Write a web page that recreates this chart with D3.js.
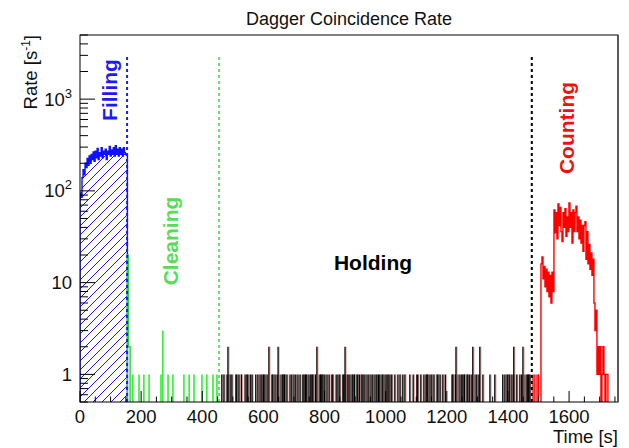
<!DOCTYPE html>
<html><head><meta charset="utf-8">
<script src="https://cdn.jsdelivr.net/npm/d3@7"></script>
<style>body{margin:0;background:#fff}svg{display:block}text{font-family:"Liberation Sans",Arial,Helvetica,sans-serif}</style>
</head><body><svg id="c" width="629" height="448"></svg>
<script>
// ---------- data ----------
const xDomain = [0, 1760];
const yDomain = [0.5, 5000];
const xTickValues = [0, 200, 400, 600, 800, 1000, 1200, 1400, 1600];
const yTickValues = [1, 10, 100, 1000];
const yTickBase = ["1", "10", "10", "10"];
const yTickExp = ["", "", "2", "3"];

// Filling phase histogram (blue, hatched)
const fillStart = 0, fillBin = 3.3;
const fillRates = [95, 85, 140, 170, 150, 200, 180, 225, 190, 240, 200, 250, 220, 265, 210, 270, 230, 290, 220, 260, 240, 295, 230, 270, 250, 285, 220, 270, 250, 305, 240, 280, 250, 295, 240, 310, 250, 285, 240, 295, 250, 285, 240, 295, 260, 250, 245];

// Cleaning phase (green)
const cleanStart = 155, cleanBin = 3;
const cleanRates = [20, 2, 2];
const cleanEvents = [173, 193, 209, 226, 265, 288, 304, 340, 357, 373, 399, 415, 435, 448];
const cleanEventRates = [1, 1, 1, 1, 1, 1, 1, 1, 1, 1, 1, 1, 1, 1];
const cleanSpikes = [271];
const cleanSpikeRates = [3];

// Holding phase (black)
const holdEvents = [464, 471, 481, 487, 491, 497, 510, 513, 520, 528, 540, 546, 549, 557, 563, 575, 582, 589, 595, 600, 605, 612, 628, 631, 638, 645, 654, 661, 664, 668, 670, 677, 687, 693, 700, 706, 713, 720, 729, 733, 738, 742, 749, 755, 759, 762, 770, 782, 787, 791, 795, 801, 808, 815, 824, 827, 838, 844, 850, 860, 863, 868, 873, 877, 883, 890, 893, 898, 906, 909, 915, 922, 926, 932, 939, 945, 952, 958, 965, 971, 976, 981, 988, 991, 998, 1004, 1008, 1014, 1020, 1030, 1040, 1047, 1056, 1063, 1079, 1090, 1102, 1105, 1115, 1125, 1132, 1135, 1138, 1145, 1151, 1158, 1168, 1171, 1178, 1187, 1195, 1217, 1220, 1228, 1236, 1243, 1249, 1253, 1258, 1266, 1269, 1275, 1282, 1292, 1298, 1305, 1318, 1341, 1357, 1383, 1390, 1397, 1400, 1406, 1413, 1420, 1429, 1439, 1445, 1455, 1462, 1465, 1468, 1472];
const holdSpikes = [484, 618, 648, 775, 867, 1230, 1285, 1308, 1419, 1449];
const holdSpikeRates = [2, 2, 2, 2, 2, 2, 2, 2, 2, 2];

// Counting phase (red)
const countEvents = [1482, 1488, 1495, 1500];
const countStart = 1508, countBin = 3.27;
const countRates = [16, 19, 11, 15, 9, 14, 8, 13, 7, 12, 6, 13, 8,
  62, 35, 58, 30, 72, 42, 66, 36, 28, 58, 40, 64, 32, 52, 36, 74, 40, 58, 27, 62, 36, 58, 68, 36, 52, 30, 48, 27, 42, 22, 42, 46, 18, 36, 16, 26, 14, 21, 12, 18,
  6, 3, 5, 1, 2, 1, 2, 0, 1, 2, 1, 0, 1, 1];

// Phase boundaries and labels
const phaseNames = ["Filling", "Cleaning", "Holding", "Counting"];
const phaseEnds = [154, 455, 1478];

// ---------- layout ----------
const L = 80, R = 618, T = 35, B = 402;
const svg = d3.select("#c");
const x = d3.scaleLinear().domain(xDomain).range([L, R]);
const y = d3.scaleLog().domain(yDomain).range([B, T]);
const yv = v => v <= 0 ? B : y(v);

const defs = svg.append("defs");
defs.append("clipPath").attr("id", "clip").append("rect").attr("x", L).attr("y", T).attr("width", R - L).attr("height", B - T);
const pat = defs.append("pattern").attr("id", "hatch").attr("patternUnits", "userSpaceOnUse").attr("width", 9).attr("height", 9);
pat.append("path").attr("d", "M-2,2 L2,-2 M0,9 L9,0 M7,11 L11,7").attr("stroke", "#1a1aff").attr("stroke-width", 1);

const g = svg.append("g").attr("clip-path", "url(#clip)");

function stepPts(t0, w, vals) {
  const pts = [[x(t0), B]];
  vals.forEach((v, i) => {
    pts.push([x(t0 + i * w), yv(v)]);
    pts.push([x(t0 + (i + 1) * w), yv(v)]);
  });
  pts.push([x(t0 + vals.length * w), B]);
  return pts;
}
const line = d3.line();

// filling
const fp = stepPts(fillStart, fillBin, fillRates);
g.append("path").attr("d", line(fp) + "Z").attr("fill", "url(#hatch)").attr("stroke", "none");
g.append("path").attr("d", line(fp)).attr("fill", "none").attr("stroke", "#1010ff").attr("stroke-width", 1.4);

// cleaning
g.append("path").attr("d", line(stepPts(cleanStart, cleanBin, cleanRates))).attr("fill", "none").attr("stroke", "#22dd22").attr("stroke-width", 1.4);
function spikes(times, rates, color, w, pink) {
  times.forEach((t, i) => {
    if (pink) g.append("line").attr("x1", x(t) + 1.1).attr("x2", x(t) + 1.1).attr("y1", B).attr("y2", yv(rates[i])).attr("stroke", pink).attr("stroke-width", 1);
    g.append("line").attr("x1", x(t)).attr("x2", x(t)).attr("y1", B).attr("y2", yv(rates[i])).attr("stroke", color).attr("stroke-width", w);
  });
}
spikes(cleanEvents, cleanEventRates, "#11ee11", 1.4);
spikes(cleanSpikes, cleanSpikeRates, "#11ee11", 1.4);
// holding
spikes(holdEvents, holdEvents.map(() => 1), "#000", 1.3, "#e0a0a0");
spikes(holdSpikes, holdSpikeRates, "#000", 1.3, "#e0a0a0");
// counting
spikes(countEvents, countEvents.map(() => 1), "#ff0000", 1.4);
g.append("path").attr("d", line(stepPts(countStart, countBin, countRates))).attr("fill", "none").attr("stroke", "#ff0000").attr("stroke-width", 1.4);

// phase boundary lines
const bColors = ["#1a1aff", "#66dd66", "#000"];
phaseEnds.forEach((t, i) => {
  svg.append("line").attr("x1", x(t)).attr("x2", x(t)).attr("y1", 57).attr("y2", B)
    .attr("stroke", bColors[i]).attr("stroke-width", 2).attr("stroke-dasharray", "3,3");
});

// frame
svg.append("rect").attr("x", L).attr("y", T).attr("width", R - L).attr("height", B - T).attr("fill", "none").attr("stroke", "#000").attr("stroke-width", 1);
svg.append("line").attr("x1", R).attr("x2", R).attr("y1", T).attr("y2", B).attr("stroke", "#555").attr("stroke-width", 1.8);

// x axis ticks (inside)
const xMinor = d3.range(0, 1751, 50);
xMinor.forEach(t => {
  const major = t % 200 === 0;
  svg.append("line").attr("x1", x(t)).attr("x2", x(t)).attr("y1", B).attr("y2", B - (major ? 11 : 5.5)).attr("stroke", "#000").attr("stroke-width", 1);
});
xTickValues.forEach(t => {
  svg.append("text").attr("x", x(t)).attr("y", 423).attr("text-anchor", "middle").attr("font-size", 18.5).attr("fill", "#111").text(d3.format("d")(t));
});
// y axis ticks
const yMinor = [];
[0.1, 1, 10, 100, 1000].forEach(d => { for (let k = 1; k <= 9; k++) { const v = d * k; if (v >= yDomain[0] && v <= yDomain[1]) yMinor.push(v); } });
yMinor.forEach(v => {
  const major = yTickValues.includes(v);
  svg.append("line").attr("x1", L).attr("x2", L + (major ? 15 : 8)).attr("y1", y(v)).attr("y2", y(v)).attr("stroke", "#000").attr("stroke-width", 1);
});
yTickValues.forEach((v, i) => {
  const tx = svg.append("text").attr("x", 72).attr("y", y(v) + 6.6).attr("text-anchor", "end").attr("font-size", 18.5).attr("fill", "#111");
  tx.append("tspan").text(yTickBase[i]);
  if (yTickExp[i]) tx.append("tspan").attr("dy", -8).attr("font-size", 13).text(yTickExp[i]);
});

// titles
svg.append("text").attr("x", (L + R) / 2).attr("y", 25).attr("text-anchor", "middle").attr("font-size", 18).attr("fill", "#111").text("Dagger Coincidence Rate");
svg.append("text").attr("x", R).attr("y", 443).attr("text-anchor", "end").attr("font-size", 18.5).attr("fill", "#111").text("Time [s]");
const yl = svg.append("text").attr("transform", `translate(37,${T}) rotate(-90)`).attr("text-anchor", "end").attr("font-size", 18.5).attr("fill", "#111");
yl.append("tspan").text("Rate [s");
yl.append("tspan").attr("dy", -7).attr("font-size", 12).text("-1");
yl.append("tspan").attr("dy", 7).text("]");

// phase labels
const lab = (txt, color, tx, ty, rot) => svg.append("text").attr("transform", `translate(${tx},${ty})` + (rot ? " rotate(-90)" : ""))
  .attr("text-anchor", "middle").attr("font-size", 21).attr("font-weight", "bold").attr("fill", color).text(txt);
lab(phaseNames[0], "#1a1aff", 117, 90, true);
lab(phaseNames[1], "#55dd55", 178, 241, true);
lab(phaseNames[2], "#000", 373, 270, false);
lab(phaseNames[3], "#ee1111", 574, 128, true);
</script></body></html>
